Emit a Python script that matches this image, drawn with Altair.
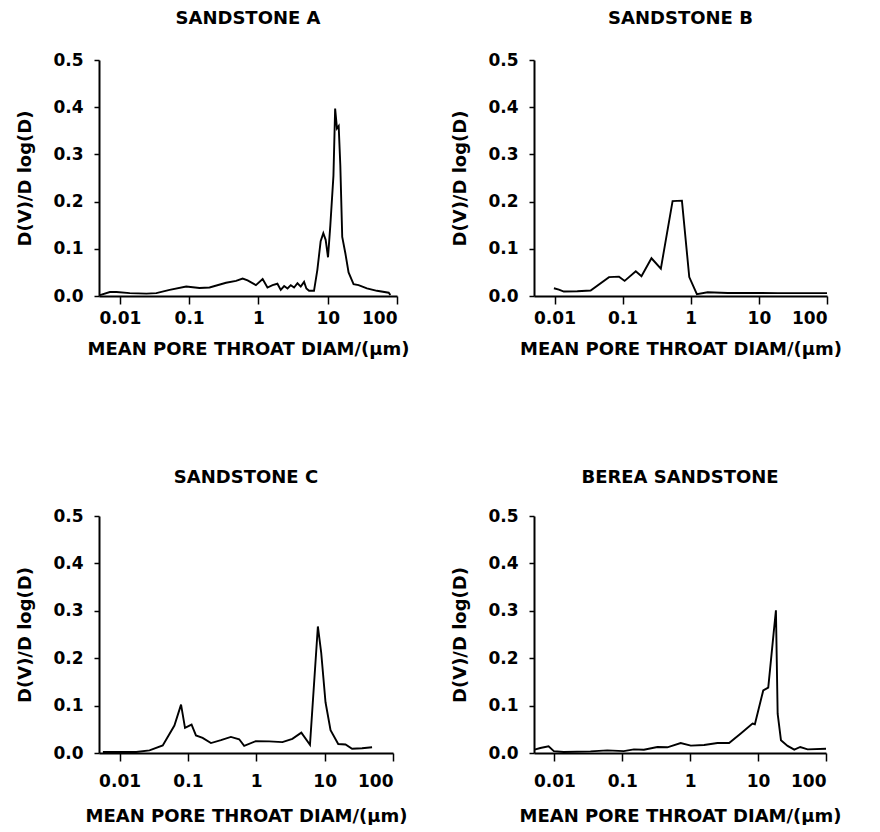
import altair as alt
import pandas as pd

FONT = "DejaVu Sans"

# ---- data ----
A_x = [0.00516, 0.00718, 0.00895, 0.0139, 0.0242, 0.0336, 0.0523, 0.0908, 0.141, 0.197,
       0.341, 0.475, 0.592, 0.698, 0.920, 1.15, 1.35, 1.60, 1.88, 2.10,
       2.35, 2.63, 2.93, 3.27, 3.66, 4.08, 4.56, 4.92, 5.38, 6.34,
       7.08, 7.91, 8.64, 9.34, 10.1, 10.9, 12.1, 12.8, 13.6, 14.4,
       15.2, 16.2, 18.0, 20.0, 23.6, 27.9, 36.8, 51.4, 75.9, 80.2]
A_y = [0.002, 0.0085, 0.0085, 0.006, 0.005, 0.006, 0.013, 0.020, 0.017, 0.018,
       0.028, 0.032, 0.037, 0.033, 0.023, 0.036, 0.018, 0.023, 0.026, 0.013,
       0.021, 0.016, 0.023, 0.018, 0.027, 0.020, 0.030, 0.016, 0.011, 0.011,
       0.055, 0.116, 0.133, 0.119, 0.082, 0.149, 0.255, 0.397, 0.355, 0.360,
       0.277, 0.125, 0.090, 0.050, 0.025, 0.023, 0.016, 0.011, 0.007, 0.002]

B_x = [0.0098, 0.0116, 0.0137, 0.0216, 0.0339, 0.0631, 0.0885, 0.107, 0.156, 0.189,
       0.265, 0.364, 0.541, 0.742, 0.951, 1.23, 1.77, 3.49, 8.61, 19.0, 100]
B_y = [0.0165, 0.0137, 0.0094, 0.010, 0.0115, 0.040, 0.041, 0.032, 0.0525, 0.042,
       0.080, 0.058, 0.201, 0.202, 0.040, 0.004, 0.008, 0.0065, 0.0065, 0.006, 0.006]

C_x = [0.0057, 0.0089, 0.0175, 0.0274, 0.0428, 0.0634, 0.0793, 0.0906, 0.113, 0.131,
       0.164, 0.217, 0.304, 0.425, 0.562, 0.665, 0.984, 1.54, 2.41, 3.37,
       4.56, 6.10, 7.96, 8.9, 10.3, 12.2, 15.8, 20.2, 25.2, 35.3, 49.4]
C_y = [0.002, 0.002, 0.002, 0.0056, 0.016, 0.058, 0.102, 0.053, 0.060, 0.037,
       0.032, 0.021, 0.027, 0.034, 0.029, 0.015, 0.025, 0.0245, 0.023, 0.030,
       0.043, 0.0175, 0.267, 0.212, 0.107, 0.048, 0.019, 0.018, 0.009, 0.010, 0.012]

D_x = [0.0051, 0.0062, 0.0082, 0.0098, 0.0137, 0.034, 0.06, 0.105, 0.148, 0.208,
       0.328, 0.46, 0.724, 1.02, 1.60, 2.52, 3.74, 5.56, 8.28, 8.96,
       11.9, 14.1, 16.9, 18.3, 19.4, 21.7, 27.2, 34.1, 41.8, 53.6, 100]
D_y = [0.007, 0.0106, 0.014, 0.004, 0.002, 0.0035, 0.0056, 0.004, 0.0077, 0.007,
       0.0127, 0.012, 0.021, 0.0155, 0.017, 0.021, 0.021, 0.041, 0.062, 0.0606,
       0.132, 0.138, 0.252, 0.301, 0.083, 0.027, 0.015, 0.007, 0.0127, 0.0077, 0.009]

TITLES = ["SANDSTONE A", "SANDSTONE B", "SANDSTONE C", "BEREA SANDSTONE"]
X_TICKS = [0.01, 0.1, 1, 10, 100]
Y_TICKS = [0.0, 0.1, 0.2, 0.3, 0.4, 0.5]
X_TITLE = "MEAN PORE THROAT DIAM/(μm)"
Y_TITLE = "D(V)/D log(D)"


def panel(xs, ys, title, w, h, lab_pad, tit_pad, t_off):
    df = pd.DataFrame({"d": xs, "v": ys})
    return alt.Chart(
        df,
        title=alt.Title(title, font=FONT, fontSize=18, fontWeight="bold",
                        anchor="middle", baseline="alphabetic", offset=t_off, color="black"),
    ).mark_line(color="black", strokeWidth=1.9).encode(
        x=alt.X("d:Q",
                scale=alt.Scale(type="log", domain=[0.005, 100], nice=False),
                axis=alt.Axis(values=X_TICKS, format="~g", title=X_TITLE,
                              tickSize=8, labelPadding=lab_pad, titlePadding=tit_pad)),
        y=alt.Y("v:Q",
                scale=alt.Scale(domain=[0, 0.5], nice=False),
                axis=alt.Axis(values=Y_TICKS, format=".1f", title=Y_TITLE,
                              tickSize=5, labelPadding=11, titlePadding=18)),
    ).properties(width=w, height=h)


a = panel(A_x, A_y, TITLES[0], 298, 236, 6, 14, 9)
b = panel(B_x, B_y, TITLES[1], 293, 236, 6, 14, 9)
c = panel(C_x, C_y, TITLES[2], 294, 237, 12, 18, 6)
d = panel(D_x, D_y, TITLES[3], 292, 237, 12, 18, 6)

chart = alt.concat(
    a, b, c, d, columns=2,
    spacing=alt.RowColnumber(row=220, column=137),
    bounds="flush",
).properties(
    padding={"top": 2, "left": 8, "right": 5, "bottom": 0}
).configure_view(stroke=None).configure_axis(
    grid=False,
    domainColor="black", domainWidth=2,
    tickColor="black", tickWidth=1.5,
    labelFont=FONT, labelFontSize=17, labelFontWeight="bold", labelColor="black",
    titleFont=FONT, titleFontSize=18, titleFontWeight="bold", titleColor="black",
).configure_axisY(labelAlign="right")

chart.save("out.html", embed_options={"renderer": "svg", "actions": False})
